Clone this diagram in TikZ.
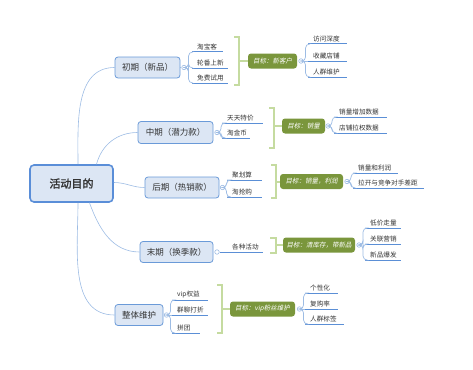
\documentclass[tikz,border=0pt]{standalone}
\usepackage{fontspec}
\usetikzlibrary{calc}
\newfontfamily\cjk{Noto Sans CJK SC}
\newfontfamily\cjkb[FakeBold=2]{Noto Sans CJK SC}
\newfontfamily\cjki[FakeSlant=0.2]{Noto Sans CJK SC}
\definecolor{bfill}{HTML}{DCE6F4}
\definecolor{bdr}{HTML}{6A9AD8}
\definecolor{rootc}{HTML}{5A8ED8}
\definecolor{connc}{HTML}{9DBCE4}
\definecolor{ulc}{HTML}{5B8FD6}
\definecolor{gfill}{HTML}{7A963C}
\definecolor{brc}{HTML}{C5DBA0}
\definecolor{txt}{HTML}{333333}
\newcommand\leafat[5]{\node[leaf] (#1) at (#2,-#3) {#5}; \draw[uline] (#1.south west) -- ++(#4,0);}
\begin{document}
\begin{tikzpicture}[x=1pt,y=1pt,
 rootbox/.style={draw=rootc, line width=1.6pt, fill=bfill, rounded corners=4pt, minimum width=83pt, minimum height=37pt, font=\cjkb\fontsize{11}{13}\selectfont, text=txt},
 branch/.style={draw=bdr, line width=0.8pt, fill=bfill, rounded corners=3pt, minimum height=21pt, inner xsep=2pt, font=\cjk\fontsize{8.5}{10}\selectfont, text=txt},
 goal/.style={fill=gfill, rounded corners=3pt, text=white, minimum height=15pt, inner xsep=2pt, font=\cjki\fontsize{6.5}{8}\selectfont},
 leaf/.style={anchor=south west, inner xsep=5pt, inner ysep=1.3pt, font=\cjk\fontsize{6.6}{8}\selectfont, text=txt},
 uline/.style={draw=ulc, line width=1pt},
 conn/.style={draw=connc, line width=0.6pt},
 sconn/.style={draw=connc, line width=0.7pt, rounded corners=4pt},
 knob/.style={circle, draw=connc, fill=white, line width=0.6pt, inner sep=0pt, minimum size=4.5pt},
 brk/.style={draw=brc, line width=2pt}
]
\useasboundingbox (0,0) rectangle (473,-369);

% root
\node[rootbox] (root) at (71.5,-183.5) {活动目的};

% branches
\node[branch, minimum width=65pt] (b1) at (147.5,-67.5) {初期（新品）};
\node[branch, minimum width=75pt, minimum height=22pt] (b2) at (175.5,-132.5) {中期（潜力款）};
\node[branch, minimum width=74pt] (b3) at (182,-187.5) {后期（热销款）};
\node[branch, minimum width=73pt] (b4) at (176.5,-252) {末期（换季款）};
\node[branch, minimum width=48pt] (b5) at (139,-315) {整体维护};

% root connectors
\draw[conn] ($(root.north)+(6.5,0)$) to[out=90,in=180] (b1.west);
\draw[conn] ($(root.north)+(25,0)$) to[out=75,in=180] (b2.west);
\draw[conn] ($(root.east)+(0,1)$) to[out=0,in=180] (b3.west);
\draw[conn] ($(root.south)+(18,0)$) to[out=-70,in=180] (b4.west);
\draw[conn] ($(root.south)+(6.5,0)$) to[out=-90,in=180] (b5.west);

% goal boxes
\node[goal, minimum width=49pt] (g1) at (272.5,-61) {目标：新客户};
\node[goal, minimum width=43pt] (g2) at (303.5,-126) {目标：销量};
\node[goal, minimum width=63pt] (g3) at (311.5,-181.5) {目标：销量，利润};
\node[goal, minimum width=72pt] (g4) at (319,-245) {目标：清库存，带新品};
\node[goal, minimum width=65pt] (g5) at (262.5,-309) {目标：vip粉丝维护};

% brackets
\coordinate (br1m) at (239,-61);
\draw[brk] (234,-37) -- (239,-37) -- (239,-85) -- (234,-85);
\draw[brk] (br1m) -- (g1.west);
\coordinate (br2m) at (274,-126);
\draw[brk] (269,-108) -- (274,-108) -- (274,-148) -- (269,-148);
\draw[brk] (br2m) -- (g2.west);
\coordinate (br3m) at (276,-181.5);
\draw[brk] (271,-165) -- (276,-165) -- (276,-198) -- (271,-198);
\draw[brk] (br3m) -- (g3.west);
\coordinate (br4m) at (276,-245);
\draw[brk] (270,-238) -- (276,-238) -- (276,-253) -- (270,-253);
\draw[brk] (br4m) -- (g4.west);
\coordinate (br5m) at (222,-309);
\draw[brk] (217,-285) -- (222,-285) -- (222,-333) -- (217,-333);
\draw[brk] (br5m) -- (g5.west);

% group 1
\leafat{l11}{192}{52}{31}{淘宝客}
\leafat{l12}{192}{68}{36}{轮番上新}
\leafat{l13}{192}{83}{36}{免费试用}
\node[knob] (k1) at (184,-67.5) {};
\foreach \l in {l11,l12,l13} \draw[sconn] (k1.east) -- ++(2,0) |- (\l.south west);
\draw[conn] (b1.east) -- (k1.west);

\leafat{m11}{308}{44}{39}{访问深度}
\leafat{m12}{308}{61}{39}{收藏店铺}
\leafat{m13}{308}{77}{39}{人群维护}
\node[knob] (q1) at (301,-61) {};
\foreach \l in {m11,m13} \draw[sconn] (q1.east) -- ++(2,0) |- (\l.south west);
\draw[sconn] (q1.east) -- (m12.south west);

% group 2
\leafat{l21}{222}{123}{41}{天天特价}
\leafat{l22}{222}{138}{28}{淘金币}
\node[knob] (k2) at (217,-132.5) {};
\foreach \l in {l21,l22} \draw[sconn] (k2.east) -- ++(1.5,0) |- (\l.south west);

\leafat{m21}{334}{117}{53}{销量增加数据}
\leafat{m22}{334}{133}{53}{店铺拉权数据}
\node[knob] (q2) at (328,-126) {};
\foreach \l in {m21,m22} \draw[sconn] (q2.east) -- ++(1.5,0) |- (\l.south west);

% group 3
\leafat{l31}{227}{180}{35}{聚划算}
\leafat{l32}{227}{197}{35}{淘抢购}
\node[knob] (k3) at (222.5,-187.5) {};
\foreach \l in {l31,l32} \draw[sconn] (k3.east) -- ++(1.5,0) |- (\l.south west);

\leafat{m31}{353}{173}{45}{销量和利润}
\leafat{m32}{353}{188}{71}{拉开与竞争对手差距}
\node[knob] (q3) at (347,-181.5) {};
\foreach \l in {m31,m32} \draw[sconn] (q3.east) -- ++(1.5,0) |- (\l.south west);

% group 4
\leafat{l41}{227}{252}{36}{各种活动}
\node[knob] (k4) at (217,-252) {};
\draw[uline] (k4.east) -- (l41.south west);

\leafat{m41}{365}{228}{36}{低价走量}
\leafat{m42}{365}{244}{36}{关联营销}
\leafat{m43}{365}{260}{36}{新品爆发}
\node[knob] (q4) at (359,-245) {};
\foreach \l in {m41,m42,m43} \draw[sconn] (q4.east) -- ++(1.5,0) |- (\l.south west);

% group 5
\leafat{l51}{172}{300}{36}{vip权益}
\leafat{l52}{172}{315}{36}{群聊打折}
\leafat{l53}{172}{333}{28}{拼团}
\node[knob] (k5) at (166.5,-315) {};
\foreach \l in {l51,l53} \draw[sconn] (k5.east) -- ++(1.5,0) |- (\l.south west);
\draw[sconn] (k5.east) -- (l52.south west);

\leafat{m51}{305}{293}{33}{个性化}
\leafat{m52}{305}{309}{33}{复购率}
\leafat{m53}{305}{324}{39}{人群标签}
\node[knob] (q5) at (299.5,-309) {};
\foreach \l in {m51,m53} \draw[sconn] (q5.east) -- ++(1.5,0) |- (\l.south west);
\draw[sconn] (q5.east) -- (m52.south west);
\end{tikzpicture}
\end{document}
